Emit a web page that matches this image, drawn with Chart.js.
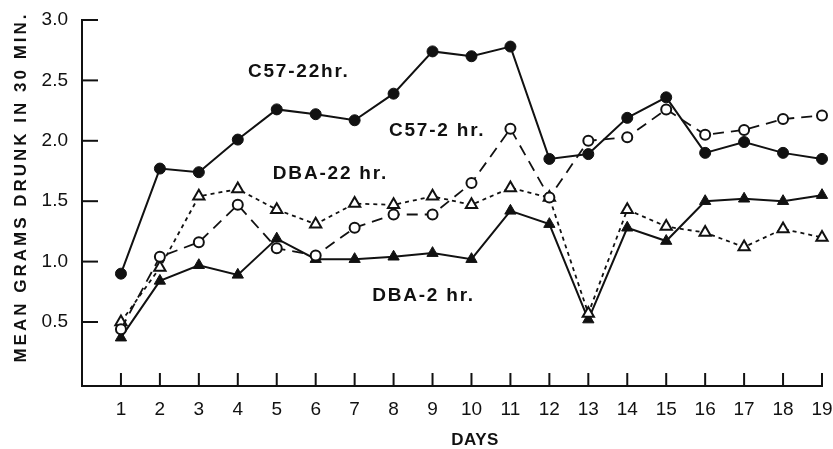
<!DOCTYPE html>
<html>
<head>
<meta charset="utf-8">
<title>Mean grams drunk in 30 min.</title>
<script src="https://cdn.jsdelivr.net/npm/chart.js@4.4.1/dist/chart.umd.min.js"></script>
<style>
  html, body { margin: 0; padding: 0; background: #fff; }
</style>
</head>
<body>
<canvas id="drinkChart" width="833" height="449"></canvas>
<script>
// Tage (X-Achse) und Y-Achsen-Beschriftungen
const days = [1, 2, 3, 4, 5, 6, 7, 8, 9, 10, 11, 12, 13, 14, 15, 16, 17, 18, 19];
const yTicks = [0.5, 1.0, 1.5, 2.0, 2.5, 3.0];

const c57_22hr = [0.90, 1.77, 1.74, 2.01, 2.26, 2.22, 2.17, 2.39, 2.74, 2.70, 2.78, 1.85, 1.89, 2.19, 2.36, 1.90, 1.99, 1.90, 1.85];
const c57_2hr  = [0.44, 1.04, 1.16, 1.47, 1.11, 1.05, 1.28, 1.39, 1.39, 1.65, 2.10, 1.53, 2.00, 2.03, 2.26, 2.05, 2.09, 2.18, 2.21];
const dba_22hr = [0.50, 0.95, 1.54, 1.60, 1.43, 1.31, 1.48, 1.47, 1.54, 1.47, 1.61, 1.53, 0.57, 1.43, 1.29, 1.24, 1.12, 1.27, 1.20];
const dba_2hr  = [0.37, 0.84, 0.97, 0.89, 1.19, 1.02, 1.02, 1.04, 1.07, 1.02, 1.42, 1.31, 0.52, 1.28, 1.17, 1.50, 1.52, 1.50, 1.55];

// Beschriftungen direkt im Diagramm (Position in Datenkoordinaten: Tag, Wert)
const seriesLabels = [
    { text: "C57-22hr.",  day: 4.26, value: 2.57 },
    { text: "C57-2 hr.",  day: 7.88, value: 2.08 },
    { text: "DBA-22 hr.", day: 4.90, value: 1.73 },
    { text: "DBA-2 hr.",  day: 7.45, value: 0.72 }
];

const ink = "#111";
const fontFamily = "'Liberation Sans', Arial, sans-serif";

// Werte mit den Tagen zu Punkten verbinden
function toPoints(values) {
    return days.map((d, i) => ({ x: d, y: values[i] }));
}

// Plugin: Striche nach innen, Achsentitel und Reihenbeschriftungen
const annotatePlugin = {
    id: "annotate",
    afterDraw(chart) {
        const ctx = chart.ctx;
        const xs = chart.scales.x;
        const ys = chart.scales.y;
        const area = chart.chartArea;
        ctx.save();
        ctx.strokeStyle = ink;
        ctx.lineWidth = 2;
        // Y-Striche nach rechts
        yTicks.forEach(v => {
            const py = ys.getPixelForValue(v);
            ctx.beginPath();
            ctx.moveTo(area.left, py);
            ctx.lineTo(area.left + 16, py);
            ctx.stroke();
        });
        // X-Striche nach oben
        days.forEach(d => {
            const px = xs.getPixelForValue(d);
            ctx.beginPath();
            ctx.moveTo(px, area.bottom);
            ctx.lineTo(px, area.bottom - 13);
            ctx.stroke();
        });

        ctx.fillStyle = ink;
        ctx.textBaseline = "middle";

        // Reihenbeschriftungen
        ctx.font = "bold 19px " + fontFamily;
        ctx.letterSpacing = "1.8px";
        ctx.textAlign = "left";
        seriesLabels.forEach(l => {
            ctx.fillText(l.text, xs.getPixelForValue(l.day), ys.getPixelForValue(l.value));
        });

        // X-Achsentitel
        ctx.font = "bold 17px " + fontFamily;
        ctx.letterSpacing = "0.5px";
        ctx.textAlign = "center";
        ctx.fillText("DAYS", 475, 440);

        // Y-Achsentitel (gedreht)
        ctx.translate(21.5, 187);
        ctx.rotate(-Math.PI / 2);
        ctx.font = "bold 17px " + fontFamily;
        ctx.letterSpacing = "3px";
        ctx.fillText("MEAN GRAMS DRUNK IN 30 MIN.", 0, 0);
        ctx.restore();
    }
};

const ctx = document.getElementById("drinkChart").getContext("2d");
const drinkChart = new Chart(ctx, {
    type: "line",
    data: {
        datasets: [
            {
                label: "C57-22hr.",
                data: toPoints(c57_22hr),
                borderColor: ink,
                borderWidth: 2,
                pointStyle: "circle",
                pointRadius: 5.5,
                pointBackgroundColor: ink,
                pointBorderColor: ink,
                pointBorderWidth: 1,
                clip: false
            },
            {
                label: "C57-2 hr.",
                data: toPoints(c57_2hr),
                borderColor: ink,
                borderWidth: 1.8,
                borderDash: [11, 7],
                pointStyle: "circle",
                pointRadius: 5,
                pointBackgroundColor: "#fff",
                pointBorderColor: ink,
                pointBorderWidth: 2,
                clip: false
            },
            {
                label: "DBA-22 hr.",
                data: toPoints(dba_22hr),
                borderColor: ink,
                borderWidth: 1.8,
                borderDash: [4, 4],
                pointStyle: "triangle",
                pointRadius: 6.5,
                pointBackgroundColor: "#fff",
                pointBorderColor: ink,
                pointBorderWidth: 2,
                clip: false
            },
            {
                label: "DBA-2 hr.",
                data: toPoints(dba_2hr),
                borderColor: ink,
                borderWidth: 2,
                pointStyle: "triangle",
                pointRadius: 6.5,
                pointBackgroundColor: ink,
                pointBorderColor: ink,
                pointBorderWidth: 1,
                clip: false
            }
        ]
    },
    options: {
        responsive: false,
        animation: false,
        devicePixelRatio: 1,
        layout: { autoPadding: false, padding: { top: 20, right: 11, left: 0, bottom: 0 } },
        elements: { line: { tension: 0 } },
        plugins: {
            legend: { display: false },
            tooltip: { enabled: false }
        },
        scales: {
            x: {
                type: "linear",
                min: 0,
                max: 19,
                grid: { display: false, drawTicks: false },
                border: { display: true, color: ink, width: 2 },
                afterBuildTicks: scale => { scale.ticks = days.map(d => ({ value: d })); },
                afterFit: scale => {
                    scale.height = 63;
                    scale.paddingLeft = 0;
                    scale.paddingRight = 0;
                },
                ticks: {
                    color: ink,
                    padding: 12,
                    maxRotation: 0,
                    autoSkip: false,
                    font: { family: fontFamily, size: 19 },
                    callback: v => String(v)
                }
            },
            y: {
                type: "linear",
                min: -0.03,
                max: 3.0,
                grid: { display: false, drawTicks: false },
                border: { display: true, color: ink, width: 2 },
                afterBuildTicks: scale => { scale.ticks = yTicks.map(v => ({ value: v })); },
                afterFit: scale => {
                    scale.width = 82;
                    scale.paddingTop = 0;
                    scale.paddingBottom = 0;
                },
                ticks: {
                    color: ink,
                    padding: 14,
                    font: { family: fontFamily, size: 19 },
                    callback: v => v.toFixed(1)
                }
            }
        }
    },
    plugins: [annotatePlugin]
});
</script>
</body>
</html>
